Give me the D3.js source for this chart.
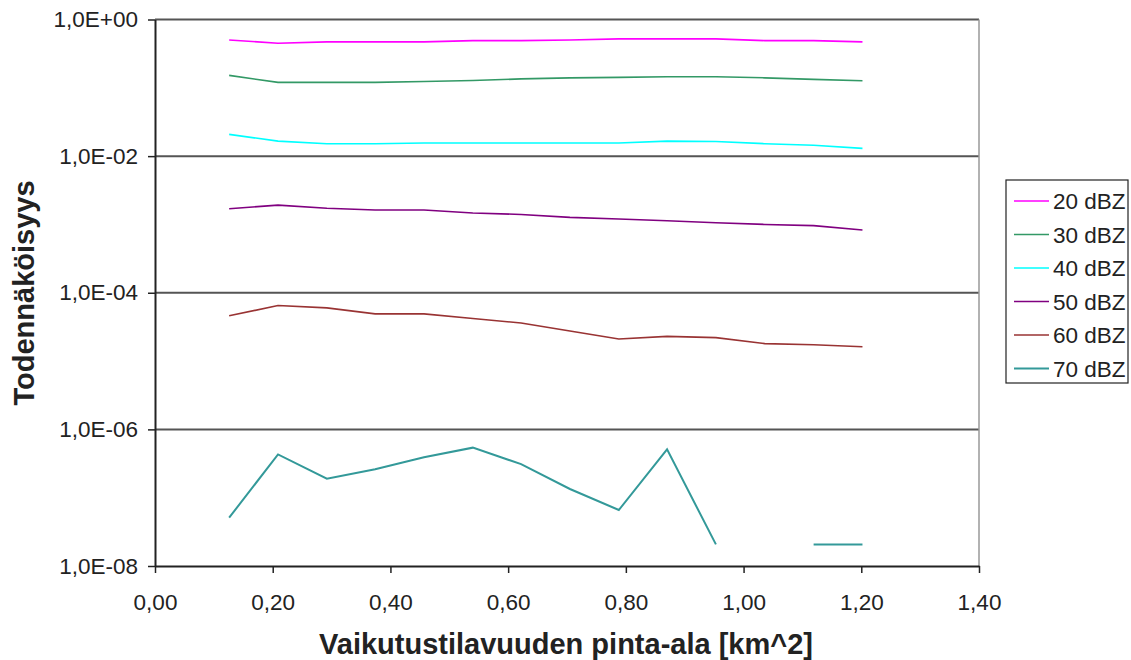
<!DOCTYPE html>
<html>
<head>
<meta charset="utf-8">
<script src="https://cdn.jsdelivr.net/npm/d3@7"></script>
<style>
  body { margin: 0; background: #fff; }
  text { font-family: "Liberation Sans", Arial, sans-serif; fill: #222; }
</style>
</head>
<body>
<svg id="chart" width="1131" height="660"></svg>
<script>
// area values on the x axis (km^2)
const areas = [0.126, 0.209, 0.292, 0.374, 0.457, 0.540, 0.622, 0.705, 0.788, 0.870, 0.953, 1.036, 1.119, 1.202];

// probability per reflectivity threshold
const dbz20 = [0.50, 0.45, 0.47, 0.47, 0.47, 0.49, 0.49, 0.50, 0.52, 0.52, 0.52, 0.49, 0.49, 0.47];
const dbz30 = [0.152, 0.120, 0.120, 0.120, 0.124, 0.128, 0.135, 0.140, 0.142, 0.145, 0.145, 0.140, 0.133, 0.127];
const dbz40 = [0.0208, 0.0166, 0.0152, 0.0152, 0.0156, 0.0156, 0.0156, 0.0156, 0.0156, 0.0166, 0.0164, 0.0152, 0.0144, 0.0130];
const dbz50 = [0.00170, 0.00192, 0.00173, 0.00163, 0.00163, 0.00147, 0.00140, 0.00127, 0.00120, 0.00113, 0.00106, 0.00100, 0.00096, 0.00083];
const dbz60 = [4.6e-5, 6.5e-5, 6.0e-5, 4.9e-5, 4.9e-5, 4.2e-5, 3.6e-5, 2.75e-5, 2.1e-5, 2.3e-5, 2.2e-5, 1.8e-5, 1.73e-5, 1.62e-5];
const dbz70 = [5.1e-8, 4.3e-7, 1.9e-7, 2.6e-7, 3.9e-7, 5.4e-7, 3.1e-7, 1.34e-7, 6.6e-8, 5.1e-7, 2.07e-8, null, 2.07e-8, 2.07e-8];

const seriesNames = ["20 dBZ", "30 dBZ", "40 dBZ", "50 dBZ", "60 dBZ", "70 dBZ"];
const seriesColors = ["#ff00ff", "#339966", "#00ffff", "#800080", "#993333", "#339999"];

const yTickValues = [1, 1e-2, 1e-4, 1e-6, 1e-8];
const xTickValues = [0, 0.2, 0.4, 0.6, 0.8, 1.0, 1.2, 1.4];

const xTitle = "Vaikutustilavuuden pinta-ala [km^2]";
const yTitle = "Todennäköisyys";

const svg = d3.select("#chart");
const LEFT = 155, RIGHT = 979, TOP = 19.5, BOTTOM = 566;

const xScale = d3.scaleLinear().domain([0, 1.4]).range([LEFT, RIGHT]);
const yScale = d3.scaleLog().domain([1e-8, 1]).range([BOTTOM, TOP]);

const formatExp = d => {
    let e = Math.round(Math.log10(d));
    let abs = Math.abs(e);
    return "1,0E" + (e >= 0 ? "+" : "-") + (abs < 10 ? "0" + abs : abs);
};
const formatX = d => d3.format(".2f")(d).replace(".", ",");

// gridlines (incl. top frame)
svg.append("g")
   .selectAll("line")
   .data(yTickValues.filter(v => v > 1e-8))
   .enter()
   .append("line")
   .attr("x1", LEFT).attr("x2", RIGHT)
   .attr("y1", d => yScale(d)).attr("y2", d => yScale(d))
   .attr("stroke", "#555")
   .attr("stroke-width", 2);

// right frame
svg.append("line")
   .attr("x1", RIGHT).attr("x2", RIGHT)
   .attr("y1", TOP).attr("y2", BOTTOM)
   .attr("stroke", "#999")
   .attr("stroke-width", 1.5);

// axes
const yAxis = d3.axisLeft(yScale)
                .tickValues(yTickValues)
                .tickFormat(formatExp)
                .tickSize(7)
                .tickSizeOuter(0)
                .tickPadding(10);
const yG = svg.append("g")
              .attr("transform", "translate(" + LEFT + ",0)")
              .call(yAxis);

const xAxis = d3.axisBottom(xScale)
                .tickValues(xTickValues)
                .tickFormat(formatX)
                .tickSize(7)
                .tickSizeOuter(0)
                .tickPadding(21);
const xG = svg.append("g")
              .attr("transform", "translate(0," + BOTTOM + ")")
              .call(xAxis);

[yG, xG].forEach(g => {
    g.selectAll(".domain").attr("stroke", "#222").attr("stroke-width", 2);
    g.selectAll(".tick line").attr("stroke", "#222").attr("stroke-width", 1.5);
    g.selectAll(".tick text").style("font-size", "22.5px").attr("fill", "#222");
});

// series lines
const allSeries = [dbz20, dbz30, dbz40, dbz50, dbz60, dbz70];
const line = d3.line()
               .defined(d => d[1] != null)
               .x(d => xScale(d[0]))
               .y(d => yScale(d[1]));

allSeries.forEach((values, i) => {
    svg.append("path")
       .datum(areas.map((a, j) => [a, values[j]]))
       .attr("fill", "none")
       .attr("stroke", seriesColors[i])
       .attr("stroke-width", i === 5 ? 2 : 1.6)
       .attr("d", line);
});

// axis titles
svg.append("text")
   .attr("x", (LEFT + RIGHT) / 2 - 1)
   .attr("y", 654)
   .attr("text-anchor", "middle")
   .style("font-size", "29px")
   .style("font-weight", "bold")
   .text(xTitle);

svg.append("text")
   .attr("transform", "translate(34,293) rotate(-90)")
   .attr("text-anchor", "middle")
   .style("font-size", "29px")
   .style("font-weight", "bold")
   .text(yTitle);

// legend
const legend = svg.append("g").attr("transform", "translate(1006,180)");
legend.append("rect")
      .attr("width", 122).attr("height", 203)
      .attr("fill", "#fff")
      .attr("stroke", "#222")
      .attr("stroke-width", 1.2);

const rows = legend.selectAll("g.row")
                   .data(seriesNames)
                   .enter()
                   .append("g")
                   .attr("class", "row")
                   .attr("transform", (d, i) => "translate(0," + (21 + i * 33.5) + ")");
rows.append("line")
    .attr("x1", 8).attr("x2", 43)
    .attr("stroke", (d, i) => seriesColors[i])
    .attr("stroke-width", (d, i) => i === 5 ? 2 : 1.6);
rows.append("text")
    .attr("x", 47)
    .attr("dy", "0.36em")
    .style("font-size", "22.5px")
    .text(d => d);
</script>
</body>
</html>
